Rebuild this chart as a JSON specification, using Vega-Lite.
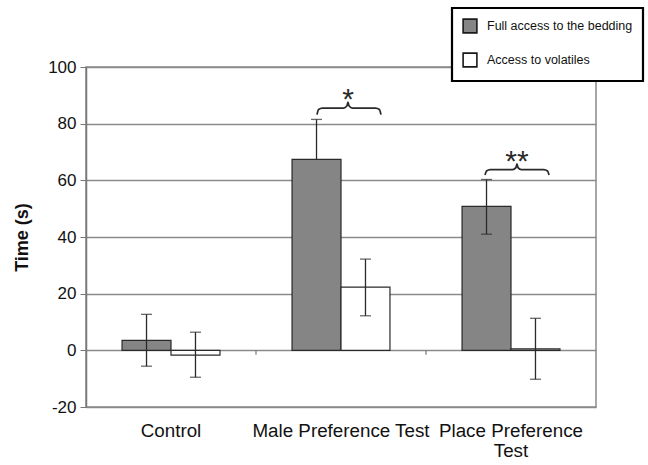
{
  "$schema": "https://vega.github.io/schema/vega-lite/v6.json",
  "width": 510,
  "height": 340,
  "autosize": "none",
  "padding": {"left": 86, "top": 67, "right": 52, "bottom": 58},
  "background": "white",
  "config": {
    "font": "Liberation Sans",
    "view": {"stroke": "#8a8a8a", "strokeWidth": 1.5}
  },
  "datasets": {
    "bars": [
      {"group": "Control", "series": "Full access to the bedding", "mean": 3.5, "lo": -5.6, "hi": 12.7, "lowcap": true},
      {"group": "Control", "series": "Access to volatiles", "mean": -1.7, "lo": -9.5, "hi": 6.4, "lowcap": true},
      {"group": "Male Preference Test", "series": "Full access to the bedding", "mean": 67.4, "lo": 67.4, "hi": 81.5, "lowcap": false},
      {"group": "Male Preference Test", "series": "Access to volatiles", "mean": 22.3, "lo": 12.2, "hi": 32.2, "lowcap": true},
      {"group": "Place Preference Test", "series": "Full access to the bedding", "mean": 50.8, "lo": 41.0, "hi": 60.3, "lowcap": true},
      {"group": "Place Preference Test", "series": "Access to volatiles", "mean": 0.5, "lo": -10.2, "hi": 11.3, "lowcap": true}
    ],
    "braces": [
      {"brace": "male", "bx": 1.359, "by": 83.2},
      {"brace": "male", "bx": 1.368, "by": 85.0},
      {"brace": "male", "bx": 1.390, "by": 85.5},
      {"brace": "male", "bx": 1.515, "by": 85.5},
      {"brace": "male", "bx": 1.535, "by": 86.3},
      {"brace": "male", "bx": 1.541, "by": 87.6},
      {"brace": "male", "bx": 1.547, "by": 86.3},
      {"brace": "male", "bx": 1.567, "by": 85.5},
      {"brace": "male", "bx": 1.704, "by": 85.5},
      {"brace": "male", "bx": 1.726, "by": 85.0},
      {"brace": "male", "bx": 1.735, "by": 83.2},
      {"brace": "place", "bx": 2.347, "by": 61.9},
      {"brace": "place", "bx": 2.356, "by": 63.3},
      {"brace": "place", "bx": 2.378, "by": 63.8},
      {"brace": "place", "bx": 2.509, "by": 63.8},
      {"brace": "place", "bx": 2.529, "by": 64.5},
      {"brace": "place", "bx": 2.535, "by": 65.8},
      {"brace": "place", "bx": 2.541, "by": 64.5},
      {"brace": "place", "bx": 2.561, "by": 63.8},
      {"brace": "place", "bx": 2.693, "by": 63.8},
      {"brace": "place", "bx": 2.715, "by": 63.3},
      {"brace": "place", "bx": 2.724, "by": 61.9}
    ],
    "stars": [
      {"sx": 1.541, "sy": 85.3, "label": "*"},
      {"sx": 2.535, "sy": 63.4, "label": "**"}
    ],
    "bounds": [
      {"bx": 1, "top": 0, "bottom": -1.6},
      {"bx": 2, "top": 0, "bottom": -1.6}
    ]
  },
  "resolve": {"scale": {"x": "independent"}},
  "layer": [
    {
      "data": {"name": "bars"},
      "encoding": {
        "x": {
          "field": "group",
          "type": "nominal",
          "sort": ["Control", "Male Preference Test", "Place Preference Test"],
          "scale": {"paddingInner": 0.424, "paddingOuter": 0.212},
          "axis": {
            "title": null,
            "ticks": false,
            "domain": false,
            "labelAngle": 0,
            "labelFontSize": 18.8,
            "labelColor": "#111",
            "labelPadding": 14,
            "labelBaseline": "top",
            "labelExpr": "datum.label == 'Place Preference Test' ? ['Place Preference', 'Test'] : datum.label"
          }
        },
        "xOffset": {
          "field": "series",
          "type": "nominal",
          "sort": ["Full access to the bedding", "Access to volatiles"],
          "scale": {"paddingInner": 0, "paddingOuter": 0}
        }
      },
      "layer": [
        {
          "mark": {"type": "bar", "stroke": "#2a2a2a", "strokeWidth": 1.2},
          "encoding": {
            "y": {
              "field": "mean",
              "type": "quantitative",
              "scale": {"domain": [-20, 100], "nice": false, "zero": false},
              "axis": {
                "title": "Time (s)",
                "titleFontSize": 18,
                "titleFontWeight": "bold",
                "titleColor": "#111",
                "titlePadding": 16,
                "values": [-20, 0, 20, 40, 60, 80, 100],
                "labelExpr": "datum.value + ''",
                "labelFontSize": 17,
                "labelColor": "#111",
                "labelPadding": 4,
                "tickSize": 6,
                "tickColor": "#777",
                "domainColor": "#777",
                "domainWidth": 1.5,
                "gridColor": "#8a8a8a",
                "gridWidth": 1.3,
                "gridOpacity": 1
              }
            },
            "y2": {"datum": 0},
            "fill": {
              "field": "series",
              "type": "nominal",
              "scale": {"domain": ["Full access to the bedding", "Access to volatiles"], "range": ["#858585", "#ffffff"]},
              "legend": {
                "title": null,
                "orient": "none",
                "legendX": 366,
                "legendY": -59,
                "direction": "vertical",
                "symbolType": "square",
                "symbolSize": 190,
                "symbolStrokeColor": "#1a1a1a",
                "symbolStrokeWidth": 1.6,
                "labelFontSize": 12.5,
                "labelColor": "#111",
                "labelOffset": 9,
                "rowPadding": 12,
                "padding": 10,
                "strokeColor": "#000",
                "fillColor": "#ffffff",
                "labelLimit": 300,
                "encode": {"legend": {"update": {"strokeWidth": {"value": 2.2}}}}
              }
            }
          }
        },
        {
          "mark": {"type": "rule", "color": "#2a2a2a", "strokeWidth": 1.3},
          "encoding": {
            "y": {"field": "lo", "type": "quantitative"},
            "y2": {"field": "hi"}
          }
        },
        {
          "mark": {"type": "tick", "color": "#2a2a2a", "size": 11, "thickness": 1.3},
          "encoding": {
            "y": {"field": "hi", "type": "quantitative"}
          }
        },
        {
          "transform": [{"filter": "datum.lowcap"}],
          "mark": {"type": "tick", "color": "#2a2a2a", "size": 11, "thickness": 1.3},
          "encoding": {
            "y": {"field": "lo", "type": "quantitative"}
          }
        }
      ]
    },
    {
      "layer": [
        {
          "data": {"name": "bounds"},
          "mark": {"type": "rule", "color": "#777", "strokeWidth": 1.2},
          "encoding": {
            "x": {"field": "bx", "type": "quantitative", "scale": {"domain": [0, 3], "nice": false, "zero": false}, "axis": null},
            "y": {"field": "top", "type": "quantitative"},
            "y2": {"field": "bottom"}
          }
        },
        {
          "data": {"name": "braces"},
          "mark": {"type": "line", "color": "#2a2a2a", "strokeWidth": 1.7, "interpolate": "monotone"},
          "encoding": {
            "x": {"field": "bx", "type": "quantitative", "scale": {"domain": [0, 3], "nice": false, "zero": false}, "axis": null},
            "y": {"field": "by", "type": "quantitative"},
            "detail": {"field": "brace", "type": "nominal"}
          }
        },
        {
          "data": {"name": "stars"},
          "mark": {"type": "text", "fontSize": 30, "color": "#2a2a2a", "baseline": "alphabetic", "align": "center"},
          "encoding": {
            "x": {"field": "sx", "type": "quantitative", "scale": {"domain": [0, 3], "nice": false, "zero": false}, "axis": null},
            "y": {"field": "sy", "type": "quantitative"},
            "text": {"field": "label", "type": "nominal"}
          }
        }
      ]
    }
  ]
}
